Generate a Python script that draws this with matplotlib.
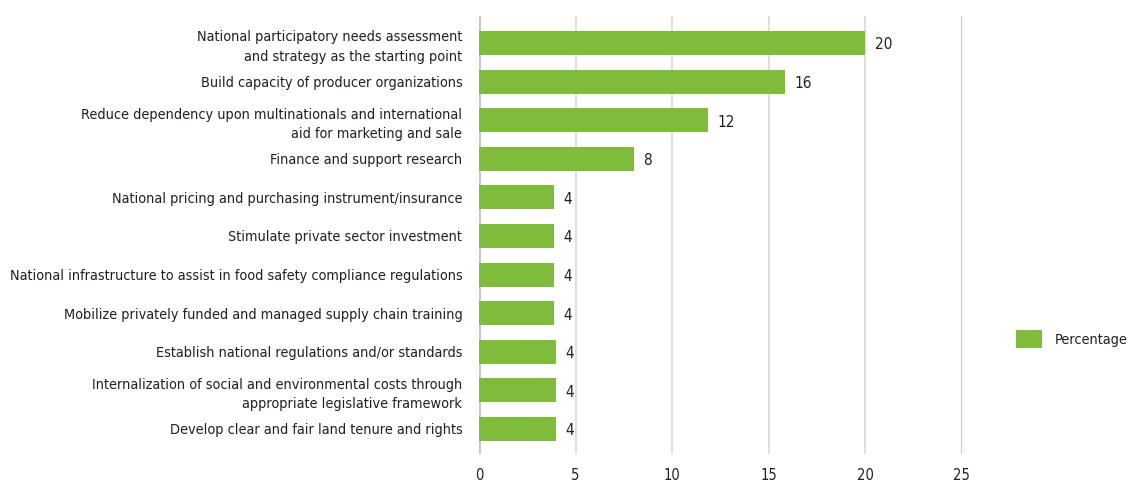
import matplotlib.pyplot as plt

plt.rcParams['font.family'] = ['Liberation Sans Narrow', 'DejaVu Sans']
plt.rcParams['font.stretch'] = 'condensed'

labels = ['National participatory needs assessment\nand strategy as the starting point',
          'Build capacity of producer organizations',
          'Reduce dependency upon multinationals and international\naid for marketing and sale',
          'Finance and support research',
          'National pricing and purchasing instrument/insurance',
          'Stimulate private sector investment',
          'National infrastructure to assist in food safety compliance regulations',
          'Mobilize privately funded and managed supply chain training',
          'Establish national regulations and/or standards',
          'Internalization of social and environmental costs through\nappropriate legislative framework',
          'Develop clear and fair land tenure and rights']
values = [20, 15.85, 11.85, 8, 3.87, 3.87, 3.87, 3.87, 3.98, 3.98, 3.98]
value_labels = ['20', '16', '12', '8', '4', '4', '4', '4', '4', '4', '4']
xticks = [0, 5, 10, 15, 20, 25]

green = '#80bc3c'
txt = '#231f20'

fig = plt.figure(figsize=(11.31, 4.84), dpi=100)
ax = fig.add_axes([0.4235, 0.062, 0.427, 0.905])

y = list(range(len(labels)))
bars = ax.barh(y, values, height=0.62, color=green, label='Percentage', zorder=3)
for yi, v, s in zip(y, values, value_labels):
    ax.text(v + 0.5, yi + 0.05, s, va='center', ha='left', fontsize=11, color=txt)

ax.set_ylim(len(labels) - 1 + 0.65, -0.7)
ax.set_xlim(0, 25)
ax.set_xticks(xticks)
ax.set_xticklabels([str(t) for t in xticks], fontsize=10.5, color=txt)
ax.set_yticks(y)
ax.set_yticklabels(labels, fontsize=10.4, color=txt, linespacing=1.5)
ax.tick_params(axis='x', length=0, pad=10)
ax.tick_params(axis='y', length=0, pad=12)

for t in xticks[1:-1]:
    ax.axvline(t, color='#d9d9d9', lw=1.2, zorder=1)
for t in (0, 25):
    ax.axvline(t, color='#c8c8c8', lw=2.2, zorder=2)
for s in ax.spines.values():
    s.set_visible(False)

leg = fig.legend(handles=[bars], labels=['Percentage'], loc='center left',
                 bbox_to_anchor=(0.887, 0.30), frameon=False, fontsize=10.4,
                 handlelength=1.8, handleheight=1.5, handletextpad=0.9)
for t in leg.get_texts():
    t.set_color(txt)

fig.savefig('out.png', dpi=100)
